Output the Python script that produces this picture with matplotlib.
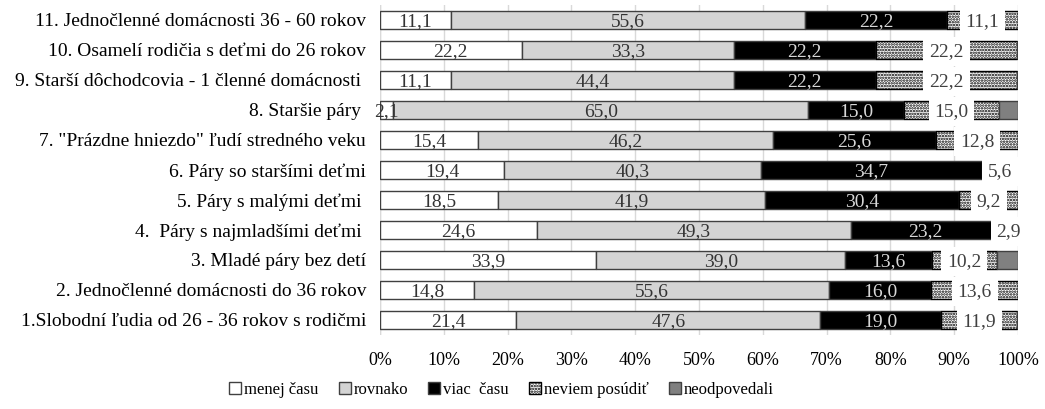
import matplotlib.pyplot as plt
import numpy as np

plt.rcParams['font.family'] = ['Liberation Serif', 'DejaVu Serif']
plt.rcParams['hatch.linewidth'] = 1.2

categories = [
    "1.Slobodní ľudia od 26 - 36 rokov s rodičmi",
    "2. Jednočlenné domácnosti do 36 rokov",
    "3. Mladé páry bez detí",
    "4.  Páry s najmladšími deťmi ",
    "5. Páry s malými deťmi ",
    "6. Páry so staršími deťmi",
    "7. \"Prázdne hniezdo\" ľudí stredného veku",
    "8. Staršie páry ",
    "9. Starší dôchodcovia - 1 členné domácnosti ",
    "10. Osamelí rodičia s deťmi do 26 rokov",
    "11. Jednočlenné domácnosti 36 - 60 rokov",
]
menej = [21.4, 14.8, 33.9, 24.6, 18.5, 19.4, 15.4, 2.1, 11.1, 22.2, 11.1]
rovnako = [47.6, 55.6, 39.0, 49.3, 41.9, 40.3, 46.2, 65.0, 44.4, 33.3, 55.6]
viac = [19.0, 16.0, 13.6, 23.2, 30.4, 34.7, 25.6, 15.0, 22.2, 22.2, 22.2]
neviem = [11.9, 13.6, 10.2, 2.9, 9.2, 5.6, 12.8, 15.0, 22.2, 22.2, 11.1]
neodp = [0, 0, 3.3, 0, 0, 0, 0, 2.9, 0, 0, 0]

series = [
    ("menej času", menej, "white", None, "#333333"),
    ("rovnako", rovnako, "#d4d4d4", None, "#333333"),
    ("viac  času", viac, "black", None, "#d8d8d8"),
    ("neviem posúdiť", neviem, "white", "......", "#404040"),
    ("neodpovedali", neodp, "#808080", None, None),
]

fig = plt.figure(figsize=(10.45, 4.09), dpi=100)
ax = fig.add_axes([0.3636, 0.181, 0.6105, 0.807])

y = np.arange(len(categories))
left = np.zeros(len(categories))
for name, vals, col, hatch, tcol in series:
    vals = np.array(vals)
    ec = "black" if hatch else "#404040"
    ax.barh(y, vals, left=left, height=0.6, color=col, edgecolor=ec,
            linewidth=1.0, hatch=hatch, label=name, zorder=3)
    if tcol is not None:
        for i, v in enumerate(vals):
            if v <= 0:
                continue
            cx = left[i] + v / 2
            txt = f"{v:.1f}".replace(".", ",")
            if hatch:
                ax.text(cx, y[i] - 0.05, txt, ha="center", va="center",
                        fontsize=14, color=tcol, zorder=5,
                        bbox=dict(boxstyle="square,pad=0.3", fc="white", ec="none"))
            else:
                ax.text(cx, y[i] - 0.05, txt, ha="center", va="center",
                        fontsize=14, color=tcol, zorder=5, clip_on=False)
    left += vals

ax.set_xlim(0, 100)
ax.set_ylim(-0.5, len(categories) - 0.5)
ax.set_xticks(np.arange(0, 101, 10))
ax.set_xticklabels([f"{t}%" for t in range(0, 101, 10)], fontsize=13)
ax.set_yticks(y)
ax.set_yticklabels(categories, fontsize=14)
ax.tick_params(axis="x", length=0, pad=12)
ax.tick_params(axis="y", length=0, pad=10)
ax.grid(axis="x", color="#d9d9d9", linewidth=1, zorder=0)
for s in ax.spines.values():
    s.set_visible(False)
ax.axvline(0, color="#d9d9d9", linewidth=1, zorder=0)

fig.legend(loc="lower center", bbox_to_anchor=(0.48, -0.01), ncol=5, frameon=False,
           prop=dict(family=['Liberation Serif', 'DejaVu Serif'], size=12),
           handlelength=0.7, handleheight=0.7, handletextpad=0.2,
           columnspacing=1.2)

plt.savefig("out.png", dpi=100)
